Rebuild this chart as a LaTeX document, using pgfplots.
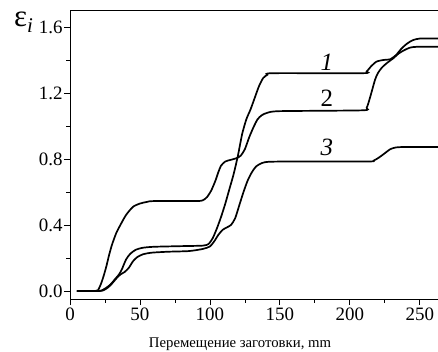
\documentclass[border=0pt]{standalone}
\usepackage{pgfplots}
\pgfplotsset{compat=1.18}
\usepackage{fontspec}
\setmainfont{Liberation Serif}
\usetikzlibrary{calc}
\begin{document}
\begin{tikzpicture}
\begin{axis}[
  scale only axis, width=368bp, height=289bp,
  xmin=0, xmax=263, ymin=-0.0485, ymax=1.703,
  axis x line*=box, axis y line*=left,
  xtick pos=left, ytick pos=left,
  tick align=outside,
  major tick length=6bp, minor tick length=3.5bp,
  xtick={0,50,100,150,200,250},
  xticklabels={0,50,100,150,200,250},
  ytick={0,0.4,0.8,1.2,1.6},
  yticklabels={0.0,0.4,0.8,1.2,1.6},
  minor x tick num=1, minor y tick num=1,
  every tick/.style={black, line width=0.8pt},
  axis line style={line width=0.8pt},
  yticklabel style={font=\fontsize{19}{22}\selectfont, xshift=2bp},
  xticklabel style={font=\fontsize{19}{22}\selectfont, yshift=1bp},
  xlabel={Перемещение заготовки, mm},
  xlabel style={at={(axis description cs:0.462,0)}, anchor=center, yshift=-45bp, font=\fontsize{14.8}{17}\selectfont},
  clip=true,
]
\addplot[black, line width=1.7bp, smooth, tension=0.4] coordinates {
(5,0) (20,0) (23,0.005) (26,0.02) (29,0.04) (32,0.07) (35,0.10) (37,0.13) (40,0.19) (43,0.225) (47,0.25) (52,0.262) (60,0.268) (80,0.272) (95,0.275) (99,0.285) (102,0.32) (105,0.38) (108,0.45) (111,0.53) (114,0.62) (117,0.71) (120,0.82) (123,0.95) (126,1.04) (129,1.10) (132,1.17) (135,1.24) (138,1.29) (141,1.31) (145,1.32) (209,1.32) (212,1.33) (215,1.36) (219,1.39) (224,1.40) (229,1.405) (233,1.43) (237,1.47) (241,1.50) (245,1.52) (250,1.53) (263,1.53)
};
\addplot[black, line width=1.7bp, smooth, tension=0.4] coordinates {
(5,0) (18,0) (20,0.005) (22,0.04) (24,0.09) (26,0.15) (28,0.22) (30,0.28) (33,0.35) (36,0.40) (40,0.46) (45,0.51) (50,0.53) (55,0.54) (60,0.545) (90,0.545) (95,0.55) (98,0.57) (101,0.61) (104,0.67) (106,0.72) (108,0.76) (111,0.785) (115,0.795) (119,0.805) (122,0.82) (125,0.86) (128,0.93) (131,0.99) (134,1.04) (137,1.065) (141,1.08) (150,1.09) (209,1.095) (212,1.11) (214,1.16) (216,1.22) (218,1.28) (220,1.32) (223,1.355) (227,1.385) (231,1.41) (235,1.44) (239,1.46) (243,1.475) (248,1.48) (263,1.48)
};
\addplot[black, line width=1.7bp, smooth, tension=0.4] coordinates {
(5,0) (21,0) (24,0.005) (27,0.02) (30,0.045) (33,0.075) (36,0.10) (39,0.115) (42,0.14) (45,0.18) (48,0.205) (52,0.222) (58,0.232) (70,0.238) (85,0.242) (95,0.255) (100,0.27) (103,0.30) (106,0.34) (109,0.37) (112,0.385) (115,0.40) (118,0.44) (121,0.52) (124,0.60) (127,0.67) (130,0.72) (133,0.755) (137,0.775) (142,0.783) (160,0.785) (213,0.785) (217,0.79) (221,0.81) (225,0.835) (229,0.86) (233,0.87) (240,0.873) (263,0.873)
};
\node[font=\fontsize{25}{28}\selectfont\itshape] at (axis cs:183.6,1.388) {1};
\node[font=\fontsize{25}{28}\selectfont] at (axis cs:183.6,1.17) {2};
\node[font=\fontsize{25}{28}\selectfont\itshape] at (axis cs:183.6,0.873) {3};
\coordinate (SW) at (rel axis cs:0,0);
\coordinate (NE) at (rel axis cs:1,1);
\coordinate (NW) at (rel axis cs:0,1);
\end{axis}
\node[anchor=base west, inner sep=0pt, font=\fontsize{31}{34}\selectfont] at ($(NW)+(-56bp,-17bp)$) {ε\raisebox{-6bp}{\fontsize{21}{24}\selectfont\itshape i}};
\pgfresetboundingbox
\path[use as bounding box] ($(SW)+(-70bp,-53bp)$) rectangle ($(NE)+(0bp,10bp)$);
\end{tikzpicture}
\end{document}
